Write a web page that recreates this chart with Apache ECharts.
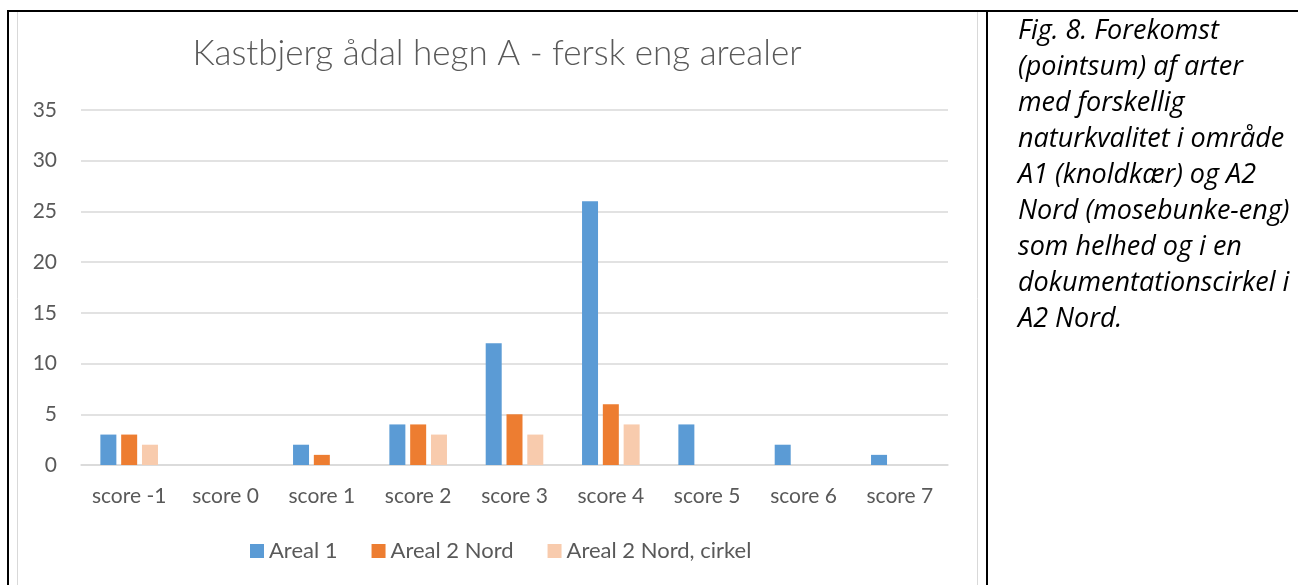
<!DOCTYPE html>
<html>
<head>
<meta charset="utf-8">
<script src="https://cdn.jsdelivr.net/npm/echarts@6/dist/echarts.min.js"></script>
<style>
html,body{margin:0;padding:0;background:#fff;}
#chart{width:1298px;height:585px;}
</style>
</head>
<body>
<div id="chart"></div>
<script>
const categories = ['score -1','score 0','score 1','score 2','score 3','score 4','score 5','score 6','score 7'];
const areal1 = [3, 0, 2, 4, 12, 26, 4, 2, 1];
const areal2Nord = [3, 0, 1, 4, 5, 6, 0, 0, 0];
const areal2NordCirkel = [2, 0, 0, 3, 3, 4, 0, 0, 0];
const seriesNames = ['Areal 1', 'Areal 2 Nord', 'Areal 2 Nord, cirkel'];
const yTicks = {min: 0, max: 35, interval: 5};
const chartTitle = 'Kastbjerg ådal hegn A - fersk eng arealer';
const captionLines = [
  'Fig. 8. Forekomst',
  '(pointsum) af arter',
  'med forskellig',
  'naturkvalitet i område',
  'A1 (knoldkær) og A2',
  'Nord (mosebunke-eng)',
  'som helhed og i en',
  'dokumentationscirkel i',
  'A2 Nord.'
];

const colors = ['#5B9BD5', '#ED7D31', '#F8CBAD'];
const FONT = 'Lato, "Open Sans", sans-serif';
const CAPFONT = '"Open Sans", Lato, sans-serif';

const chart = echarts.init(document.getElementById('chart'), null, {renderer: 'canvas'});

const graphics = [
  {type: 'line', shape: {x1: 7, y1: 11, x2: 1298, y2: 11}, style: {stroke: '#000', lineWidth: 2}, silent: true},
  {type: 'line', shape: {x1: 8, y1: 10, x2: 8, y2: 585}, style: {stroke: '#000', lineWidth: 2}, silent: true},
  {type: 'line', shape: {x1: 987, y1: 10, x2: 987, y2: 585}, style: {stroke: '#000', lineWidth: 2}, silent: true},
  {type: 'line', shape: {x1: 17.5, y1: 12, x2: 17.5, y2: 585}, style: {stroke: '#D9D9D9', lineWidth: 1}, silent: true},
  {type: 'line', shape: {x1: 977.5, y1: 12, x2: 977.5, y2: 585}, style: {stroke: '#D9D9D9', lineWidth: 1}, silent: true},
  {type: 'text', x: 497, y: 54, silent: true,
   style: {text: chartTitle, fill: '#595959', font: '300 35px ' + FONT, align: 'center', verticalAlign: 'middle'}}
];
captionLines.forEach((t, i) => {
  graphics.push({type: 'text', x: 1018, y: 31 + 36 * i, silent: true,
    style: {text: t, fill: '#000', font: 'italic 27px ' + CAPFONT, align: 'left', verticalAlign: 'middle'}});
});

const series = [areal1, areal2Nord, areal2NordCirkel].map((d, i) => ({
  name: seriesNames[i],
  type: 'bar',
  data: d,
  barWidth: 16,
  barGap: '30%',
  itemStyle: {color: colors[i]},
  emphasis: {disabled: true}
}));

chart.setOption({
  animation: false,
  backgroundColor: '#fff',
  textStyle: {fontFamily: FONT},
  grid: {left: 81, right: 350, top: 110, bottom: 120, containLabel: false},
  legend: {
    data: seriesNames,
    left: 245, top: 535,
    itemWidth: 14, itemHeight: 14, itemGap: 34,
    icon: 'rect',
    textStyle: {color: '#595959', fontSize: 22, fontFamily: FONT}
  },
  xAxis: {
    type: 'category',
    data: categories,
    axisLine: {lineStyle: {color: '#D9D9D9', width: 1.5}},
    axisTick: {show: false},
    axisLabel: {color: '#595959', fontSize: 21, margin: 21, interval: 0, fontFamily: FONT}
  },
  yAxis: {
    type: 'value',
    min: yTicks.min, max: yTicks.max, interval: yTicks.interval,
    axisLine: {show: false},
    axisTick: {show: false},
    splitLine: {lineStyle: {color: '#D9D9D9', width: 1.5}},
    axisLabel: {color: '#595959', fontSize: 21, margin: 24, fontFamily: FONT}
  },
  series: series,
  graphic: graphics
});
</script>
</body>
</html>
